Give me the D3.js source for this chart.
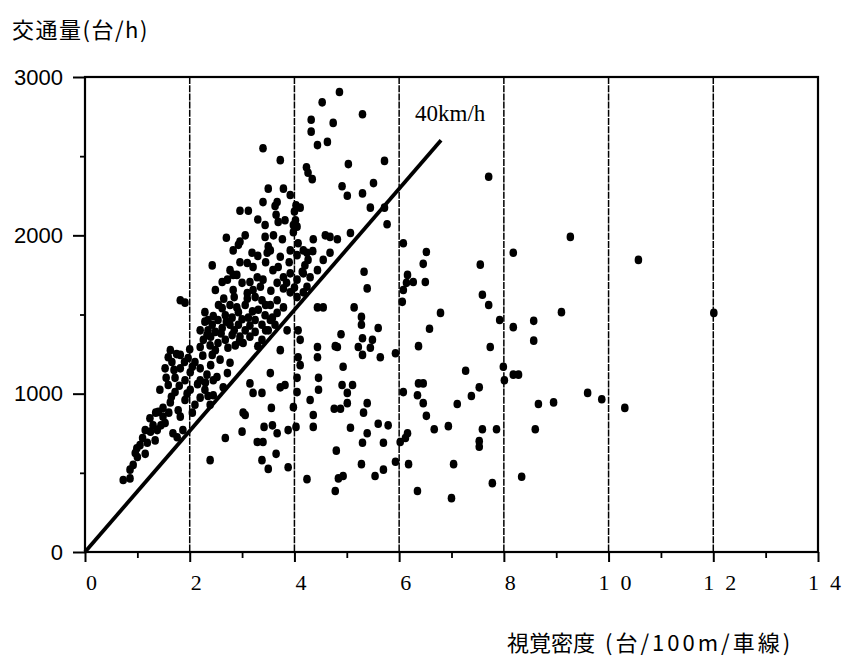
<!DOCTYPE html>
<html lang="ja">
<head>
<meta charset="UTF-8">
<title>交通量と視覚密度</title>
<script src="https://d3js.org/d3.v7.min.js"></script>
<style>
  body { margin: 0; background: #fff; }
  svg { display: block; }
  .tick-y text { font-family: "Liberation Sans", Arial, sans-serif; font-size: 22px; fill: #000; }
  .tick-x text { font-family: "Liberation Serif", "Times New Roman", serif; font-size: 22px; fill: #000; }
  .title { font-family: "Noto Sans CJK JP", sans-serif; fill: #000; }
</style>
</head>
<body>
<svg width="845" height="659"></svg>
<script>
// axis setup
const xMajor = [0, 2, 4, 6, 8, 10, 12, 14];
const xMinor = [1, 3, 5, 7, 9, 11, 13];
const yMajor = [0, 1000, 2000, 3000];
const yMinor = [500, 1500, 2500];
const gridX = [2, 4, 6, 8, 10, 12];

// 40km/h reference line [density, flow]
const speedLine = [[0, 0], [6.8, 2600]];

// observations [視覚密度, 交通量]
const ptsUpper = [
  [4.86,2905],[4.53,2840],[5.30,2765],[4.32,2730],[4.74,2710],[4.32,2655],[4.44,2570],[4.63,2590],
  [5.03,2450],[5.72,2470],[4.23,2430],[4.26,2395],[4.34,2355],[4.91,2310],[5.01,2250],[5.30,2265],
  [5.51,2330],[5.45,2175],[5.72,2175],[5.77,2070],[4.36,1975],[4.59,2000],[4.68,1990],[4.82,1975],
  [5.07,2015],[4.68,1890],[4.17,1905],[4.24,1890],[6.08,1950],[6.52,1895],[7.71,2370],[8.18,1890],
  [4.03,2190],[4.11,2175],[4.02,2095],[4.05,2055],[3.40,2550],[3.73,2475],[3.50,2295],[3.79,2295],
  [3.40,2210],[3.63,2185],[3.67,2210],[2.96,2155],[3.12,2155],[3.92,2255],[3.69,2085],[3.82,2095],
  [3.98,2065],[3.44,2065],[3.44,1990],[2.70,1985],[3.06,2000],[2.96,1960],[2.83,1905],[3.77,1975],
  [3.19,1890],[3.54,1905],[3.73,1865]
];

const ptsBand = [
  [2.93,1940],[3.98,2020],[4.07,1950],[3.92,1905],[4.05,1875],[4.26,1845],[3.50,1930],[3.48,1890],
  [3.10,1825],[2.96,1830],[2.43,1810],[2.77,1780],[2.72,1720],[2.62,1705],[2.83,1750],[3.21,1800],
  [3.29,1735],[3.15,1705],[3.10,1635],[3.21,1655],[3.35,1675],[3.59,1780],[3.69,1800],[3.79,1735],
  [3.92,1760],[4.05,1720],[4.17,1760],[4.30,1735],[4.44,1780],[4.55,1845],[3.67,1700],[3.79,1665],
  [3.92,1640],[4.05,1610],[4.17,1640],[4.24,1675],[2.49,1655],[2.83,1655],[3.67,1590],[3.79,1545],
  [3.67,1510],[3.54,1465],[4.15,1770],[1.82,1590],[1.91,1575],[2.29,1515],[2.35,1465],[1.63,1275],
  [1.59,1230],[3.00,1700],[3.40,1720],[3.55,1650],[3.85,1700],[4.00,1670],[3.45,1830],[3.30,1870],
  [2.90,1750],[3.60,2000],[3.90,1830],[4.20,1810],[4.35,1900],[3.65,2130],[3.30,2100],[4.00,2150]
];

const ptsBlobA = [
  [3.25,1610],[3.38,1590],[3.54,1560],[3.31,1530],[3.44,1495],[3.58,1480],[3.25,1465],[3.38,1435],
  [3.12,1480],[3.06,1560],[2.93,1515],[2.81,1480],[2.68,1495],[2.54,1465],[2.43,1435],[2.29,1455],
  [2.20,1400],[2.33,1370],[2.49,1390],[2.62,1415],[2.77,1435],[2.93,1435],[3.06,1400],[2.96,1360],
  [2.81,1370],[2.68,1340],[2.54,1320],[2.39,1305],[2.26,1340],[2.20,1295],[2.49,1275],[2.73,1290],
  [2.87,1305],[3.02,1320],[3.15,1360],[3.25,1390],[3.38,1340],[3.50,1400],[3.63,1435],[2.62,1540],
  [2.77,1560],[2.35,1400],[2.60,1380],[2.85,1400],[3.15,1430],[3.00,1470],[2.70,1455],[2.45,1490],
  [2.90,1545],[3.20,1520],[3.45,1560],[3.10,1600],[2.40,1360],[2.95,1330],[3.30,1300],[3.45,1400],
  [2.55,1560],[2.65,1600],[2.85,1610]
];

const ptsBlobB = [
  [1.82,1245],[1.97,1225],[2.10,1200],[1.66,1200],[1.53,1160],[1.82,1160],[2.01,1135],[2.20,1160],
  [2.33,1120],[2.45,1085],[2.20,1085],[1.91,1085],[1.72,1100],[1.59,1055],[1.43,1025],[1.72,1010],
  [2.01,1025],[2.29,1025],[2.45,990],[2.20,975],[1.91,960],[1.63,945],[1.49,910],[1.78,895],
  [2.10,930],[2.39,930],[2.52,1105],[2.72,1130],[2.64,1040],[2.77,1195],[2.58,1215],[2.43,1245],
  [1.70,1150],[1.90,1200],[2.05,1170],[2.15,1060],[1.80,1050],[2.30,1070],[1.55,1100],[1.65,980],
  [1.95,1000],[2.35,985],[2.05,880],[1.75,1250],[2.00,1280],[2.25,1240],[2.40,1180]
];

const ptsLowerLeft = [
  [1.40,885],[1.24,845],[1.30,800],[1.15,770],[1.38,770],[1.19,690],[1.34,705],[1.05,675],
  [0.96,625],[0.99,655],[0.86,520],[0.92,550],[0.73,455],[0.86,465],[1.49,855],[1.68,750],
  [1.76,725],[1.53,815],[1.82,855],[1.87,770],[1.10,720],[1.25,760],[1.45,800],[1.00,600],
  [1.60,880],[1.35,880],[1.15,620]
];

const ptsCongested = [
  [2.39,580],[2.68,720],[3.00,760],[3.06,865],[3.29,695],[3.40,695],[3.38,580],[3.50,525],
  [3.65,620],[3.42,790],[3.58,800],[3.67,750],[3.56,910],[3.88,535],[3.88,770],[4.03,790],
  [3.73,1275],[3.54,1130],[3.15,1065],[3.21,1005],[3.38,1005],[3.73,1040],[3.82,1055],[3.02,880],
  [4.07,1400],[4.11,1340],[4.44,1295],[4.44,1230],[4.46,1100],[4.46,1025],[4.30,960],[4.36,865],
  [4.36,790],[4.82,1295],[4.07,1230],[4.11,1180],[4.05,1100],[4.05,1010],[3.98,915],[3.86,1400],
  [4.89,1375],[4.91,1055],[4.93,1170],[5.01,1005],[5.33,1770],[5.39,1665],[4.44,1545],[4.55,1545],
  [5.14,1545],[5.28,1485],[5.28,1435],[5.60,1415],[4.78,1300],[5.30,1350],[5.49,1340],[5.45,1290],
  [5.22,1295],[5.30,1245],[5.64,1230],[5.11,1055],[5.01,940],[4.76,905],[4.88,905],[5.39,940],
  [5.32,880],[5.07,785],[5.60,810],[5.79,800],[5.39,750],[5.30,690],[5.70,690],[5.93,1255],
  [6.16,1750],[6.27,1705],[6.08,1655],[6.50,1705],[6.14,1700],[6.06,1580],[6.37,1065],[6.46,1065],
  [6.08,1010],[6.35,990],[6.46,940],[6.52,860],[6.67,775],[6.94,795],[6.16,750],[6.02,695],
  [6.46,1820],[6.79,1510],[6.58,1410],[6.37,1300],[7.27,1145],[7.53,1040],[7.38,985],[7.11,935],
  [7.55,1815],[7.59,1625],[7.71,1560],[7.92,1465],[7.74,1295],[7.99,1170],[8.01,1085],[8.18,1120],
  [8.28,1120],[8.18,1420],[8.57,1460],[8.57,1335],[8.66,935],[7.59,775],[7.86,775],[7.53,700],
  [7.53,665],[8.60,775],[4.24,460],[4.80,640],[4.84,465],[4.93,480],[4.78,385],[5.28,555],
  [5.54,480],[5.70,520],[5.93,570],[6.12,720],[6.18,555],[6.35,385],[7.04,555],[7.00,340],
  [7.78,435],[8.34,475]
];

const ptsFar = [
  [9.27,1990],[10.57,1845],[9.10,1515],[12.01,1510],[8.95,945],[9.60,1005],[9.87,965],[10.31,910]
];

const svg = d3.select("svg");

const x = d3.scaleLinear().domain([0, 14]).range([85, 818]);
const y = d3.scaleLinear().domain([0, 3000]).range([552, 77]);

// vertical grid lines
svg.append("g")
  .selectAll("line")
  .data(gridX)
  .join("line")
  .attr("x1", d => x(d)).attr("x2", d => x(d))
  .attr("y1", y(3000)).attr("y2", y(0))
  .attr("stroke", "#000")
  .attr("stroke-width", 1.5)
  .attr("stroke-dasharray", "7,1.2");

// frame
svg.append("rect")
  .attr("x", x(0)).attr("y", y(3000))
  .attr("width", x(14) - x(0)).attr("height", y(0) - y(3000))
  .attr("fill", "none")
  .attr("stroke", "#000")
  .attr("stroke-width", 2.2);

// x axis ticks
const fmtX = d => String(d).split("").join("\u2002");
const gx = svg.append("g")
  .attr("class", "tick-x")
  .attr("transform", `translate(0,${y(0)})`)
  .call(d3.axisBottom(x).tickValues(xMajor).tickSize(10).tickPadding(12).tickFormat(fmtX));
gx.select(".domain").remove();
gx.selectAll("line").attr("stroke-width", 2);
gx.selectAll("text").attr("dx", 6);

const gxm = svg.append("g")
  .attr("transform", `translate(0,${y(0)})`)
  .call(d3.axisBottom(x).tickValues(xMinor).tickSize(6).tickFormat(""));
gxm.select(".domain").remove();
gxm.selectAll("line").attr("stroke-width", 1.8);

// y axis ticks
const gy = svg.append("g")
  .attr("class", "tick-y")
  .attr("transform", `translate(${x(0)},0)`)
  .call(d3.axisLeft(y).tickValues(yMajor).tickSize(12).tickPadding(10).tickFormat(d3.format("d")));
gy.select(".domain").remove();
gy.selectAll("line").attr("stroke-width", 2);

const gym = svg.append("g")
  .attr("transform", `translate(${x(0)},0)`)
  .call(d3.axisLeft(y).tickValues(yMinor).tickSize(5).tickFormat(""));
gym.select(".domain").remove();
gym.selectAll("line").attr("stroke-width", 1.8);

// data points
const allPts = [].concat(ptsUpper, ptsBand, ptsBlobA, ptsBlobB, ptsLowerLeft, ptsCongested, ptsFar);
svg.append("g")
  .selectAll("ellipse")
  .data(allPts)
  .join("ellipse")
  .attr("cx", d => x(d[0]))
  .attr("cy", d => y(d[1]))
  .attr("rx", 3.8)
  .attr("ry", 4.3)
  .attr("fill", "#000");

// 40km/h line
svg.append("path")
  .datum(speedLine)
  .attr("d", d3.line().x(d => x(d[0])).y(d => y(d[1])))
  .attr("stroke", "#000")
  .attr("stroke-width", 3.8)
  .attr("fill", "none");

svg.append("text")
  .attr("x", 415).attr("y", 121)
  .attr("font-family", "Liberation Serif, serif")
  .attr("font-size", 23)
  .text("40km/h");

// axis titles
svg.append("text")
  .attr("class", "title")
  .attr("x", 12).attr("y", 38)
  .attr("font-size", 22)
  .attr("letter-spacing", 1.5)
  .text("交通量(台/h)");

const xt = svg.append("text")
  .attr("class", "title")
  .attr("x", 507).attr("y", 651)
  .attr("font-size", 22);
xt.append("tspan").text("視覚密度");
xt.append("tspan").attr("dx", 10).attr("letter-spacing", 3).text("(台/100m/車線)");
</script>
</body>
</html>
